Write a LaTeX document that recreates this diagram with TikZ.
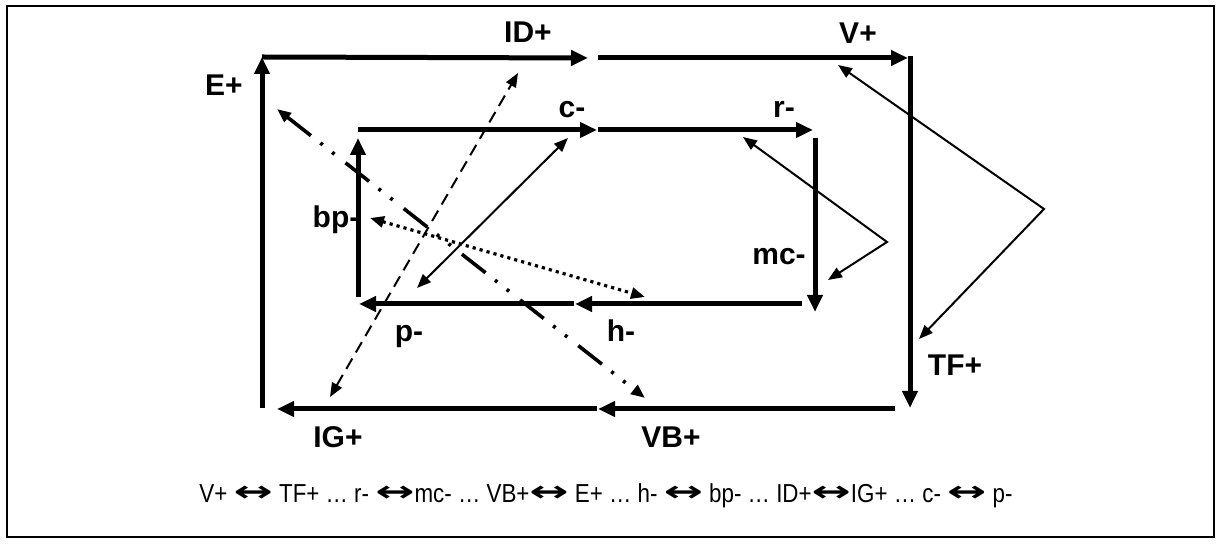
\documentclass[tikz,border=0pt]{standalone}
\usepackage{fontspec}
\setmainfont{Liberation Sans}
\newfontfamily\legendfont[FakeStretch=0.86]{Liberation Sans}
\newfontfamily\arrowfont{DejaVu Sans}
\usetikzlibrary{arrows.meta}
\newcommand{\dbl}{\raisebox{0.1ex}{\scalebox{1.8}[1.1]{\arrowfont\bfseries ↔}}}

\begin{document}
\begin{tikzpicture}[
  x=0.5pt, y=-0.5pt,
  lbl/.style={font=\bfseries\fontsize{15}{18}\selectfont, anchor=base, inner sep=0pt},
  cycle/.style={line width=2.5pt, -{Triangle[length=8.5pt,width=7.5pt]}},
  link/.style={line width=1pt, {Triangle[length=7pt,width=5.5pt]}-{Triangle[length=7pt,width=5.5pt]}},
  dashlink/.style={link, dash pattern=on 6pt off 3.5pt},
  dotlink/.style={link, line width=1.6pt, dash pattern=on 1.6pt off 2pt},
  dddlink/.style={link, line width=1.8pt, dash pattern=on 15pt off 6pt on 1.5pt off 6pt on 1.5pt off 7pt}
]
\useasboundingbox (0,0) rectangle (1222,544);
\draw[line width=1pt] (7,6) rectangle (1214,537);

% outer cycle
\coordinate (eTop) at (262,57);
\coordinate (idEnd) at (588,58);
\coordinate (idStart) at (598,58);
\coordinate (vEnd) at (908,58);
\coordinate (tfTop) at (910,56);
\coordinate (tfEnd) at (910,408);
\coordinate (vbStart) at (895,409);
\coordinate (vbEnd) at (598,409);
\coordinate (igStart) at (597,409);
\coordinate (igEnd) at (277,409);
\coordinate (eBot) at (262,408);

\draw[cycle] (eTop) -- (idEnd);
\draw[cycle] (idStart) -- (vEnd);
\draw[cycle] (tfTop) -- (tfEnd);
\draw[cycle] (vbStart) -- (vbEnd);
\draw[cycle] (igStart) -- (igEnd);
\draw[cycle] (eBot) -- (eTop);

% inner cycle
\coordinate (bpTop) at (358,138);
\coordinate (cStart) at (358,130);
\coordinate (cEnd) at (597,130);
\coordinate (rStart) at (598,130);
\coordinate (rEnd) at (813,130);
\coordinate (mcTop) at (815,138);
\coordinate (mcEnd) at (815,312);
\coordinate (hStart) at (802,304);
\coordinate (hEnd) at (575,304);
\coordinate (pStart) at (574,304);
\coordinate (pEnd) at (359,304);
\coordinate (bpBot) at (358,297);

\draw[cycle] (cStart) -- (cEnd);
\draw[cycle] (rStart) -- (rEnd);
\draw[cycle] (mcTop) -- (mcEnd);
\draw[cycle] (hStart) -- (hEnd);
\draw[cycle] (pStart) -- (pEnd);
\draw[cycle] (bpBot) -- (bpTop);

\node[lbl] (id) at (528,43) {ID+};
\node[lbl] (v) at (858,44) {V+};
\node[lbl] (e) at (224,96) {E+};
\node[lbl] (tf) at (955,376) {TF+};
\node[lbl] (ig) at (338,448) {IG+};
\node[lbl] (vb) at (671,448) {VB+};
\node[lbl] (c) at (572,118) {c-};
\node[lbl] (r) at (784,118) {r-};
\node[lbl] (mc) at (779,265) {mc-};
\node[lbl] (p) at (409,342) {p-};
\node[lbl] (h) at (621,342) {h-};
\node[lbl] (bp) at (336,228) {bp-};

% opposite pairs
\coordinate (igTip) at (330,397);
\coordinate (idTip) at (518,73);
\coordinate (eTip) at (277,109);
\coordinate (vbTip) at (645,398);
\coordinate (bpTip) at (370,218);
\coordinate (hTip) at (645,297);
\coordinate (pTip) at (417,288);
\coordinate (cTip) at (568,138);
\coordinate (rTip) at (743,137);
\coordinate (rmBend) at (887,242);
\coordinate (mcTip) at (828,280);
\coordinate (vTip) at (838,65);
\coordinate (vtBend) at (1044,209);
\coordinate (tfTip) at (919,339);

\draw[dashlink] (igTip) -- (idTip);
\draw[dddlink] (eTip) -- (vbTip);
\draw[dotlink] (bpTip) -- (hTip);
\draw[link] (pTip) -- (cTip);
\draw[link] (rTip) -- (rmBend) -- (mcTip);
\draw[link] (vTip) -- (vtBend) -- (tfTip);

\node[anchor=base, inner sep=0pt, font=\legendfont\fontsize{13}{15}\selectfont] (legend) at (606,503)
  {V+ \dbl{} TF+ … r- \dbl{}mc- … VB+\dbl{} E+ … h- \dbl{} bp- … ID+\dbl{}IG+ … c- \dbl{} p-};
\end{tikzpicture}
\end{document}
